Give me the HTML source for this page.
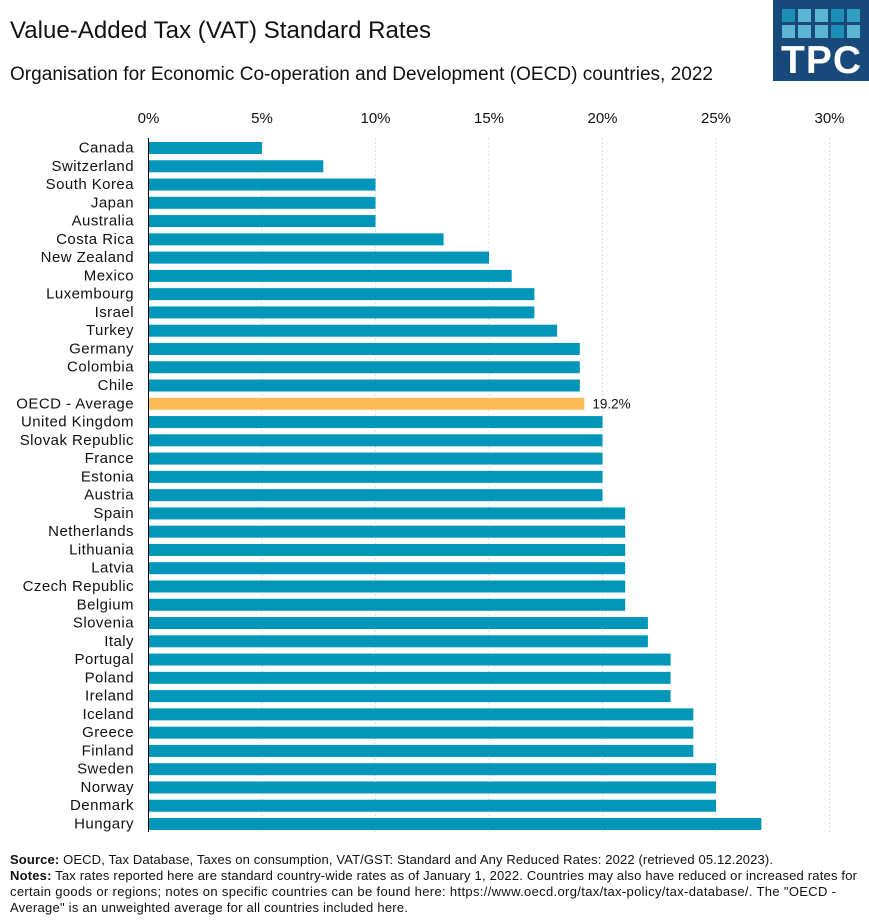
<!DOCTYPE html>
<html lang="en">
<head>
<meta charset="utf-8">
<title>Value-Added Tax (VAT) Standard Rates</title>
<style>
html,body{margin:0;padding:0;background:#fff;width:869px;height:920px;overflow:hidden}
svg{display:block;font-family:"Liberation Sans",sans-serif;fill:#111}
</style>
</head>
<body>
<svg id="chart" width="869" height="920" viewBox="0 0 869 920" xmlns="http://www.w3.org/2000/svg">
  <text x="10" y="38" font-size="24" textLength="421" fill="#111">Value-Added Tax (VAT) Standard Rates</text>
  <text x="10" y="80" font-size="19" textLength="703" fill="#111">Organisation for Economic Co-operation and Development (OECD) countries, 2022</text>
  <g>
    <rect x="773" y="0" width="96" height="81" fill="#17497a"/>
    <rect x="782" y="9" width="13" height="13" fill="#1b8fb8"/>
    <rect x="798" y="9" width="13" height="13" fill="#5ab6d3"/>
    <rect x="815" y="9" width="13" height="13" fill="#5ab6d3"/>
    <rect x="831" y="9" width="13" height="13" fill="#1b8fb8"/>
    <rect x="847" y="9" width="13" height="13" fill="#2f9fc2"/>
    <rect x="782" y="25" width="13" height="13" fill="#5ab6d3"/>
    <rect x="798" y="25" width="13" height="13" fill="#5ab6d3"/>
    <rect x="815" y="25" width="13" height="13" fill="#5ab6d3"/>
    <rect x="831" y="25" width="13" height="13" fill="#1b8fb8"/>
    <rect x="847" y="25" width="13" height="13" fill="#5ab6d3"/>
    <text x="781" y="73" font-size="39" font-weight="700" textLength="80" fill="#fff">TPC</text>
  </g>
  <g id="grid"></g>
  <g id="ticks"></g>
  <g id="bars"></g>
  <g id="labels"></g>
  <line x1="148.5" y1="138" x2="148.5" y2="832" stroke="#000" stroke-width="1"/>
  <g font-size="13" fill="#111">
    <text x="10" y="864" textLength="763"><tspan font-weight="700">Source:</tspan> OECD, Tax Database, Taxes on consumption, VAT/GST: Standard and Any Reduced Rates: 2022 (retrieved 05.12.2023).</text>
    <text x="10" y="880" textLength="847"><tspan font-weight="700">Notes:</tspan> Tax rates reported here are standard country-wide rates as of January 1, 2022. Countries may also have reduced or increased rates for</text>
    <text x="10" y="896" textLength="826">certain goods or regions; notes on specific countries can be found here: https://www.oecd.org/tax/tax-policy/tax-database/. The "OECD -</text>
    <text x="10" y="912" textLength="398">Average" is an unweighted average for all countries included here.</text>
  </g>
</svg>
<script>
const categories = ["Canada","Switzerland","South Korea","Japan","Australia","Costa Rica","New Zealand","Mexico","Luxembourg","Israel","Turkey","Germany","Colombia","Chile","OECD - Average","United Kingdom","Slovak Republic","France","Estonia","Austria","Spain","Netherlands","Lithuania","Latvia","Czech Republic","Belgium","Slovenia","Italy","Portugal","Poland","Ireland","Iceland","Greece","Finland","Sweden","Norway","Denmark","Hungary"];
const rates = [5,7.7,10,10,10,13,15,16,17,17,18,19,19,19,19.2,20,20,20,20,20,21,21,21,21,21,21,22,22,23,23,23,24,24,24,25,25,25,27];
const tickValues = [0,5,10,15,20,25,30];
const highlightCategory = "OECD - Average";

const NS = "http://www.w3.org/2000/svg";
function xScale(v){ return 148.5 + v * (829.5 - 148.5) / 30; }
function yScale(i){ return 142 + i * (818 - 142) / 37; }
const barHeight = 12;

function make(tag, attrs, parent, text){
  const el = document.createElementNS(NS, tag);
  for (const k in attrs) el.setAttribute(k, attrs[k]);
  if (text !== undefined) el.textContent = text;
  parent.appendChild(el);
  return el;
}

const gridGroup = document.getElementById("grid");
const tickGroup = document.getElementById("ticks");
const barGroup = document.getElementById("bars");
const labelGroup = document.getElementById("labels");

tickValues.forEach(function(t){
  if (t > 0) {
    const g = make("line", {x1:xScale(t), x2:xScale(t), y1:138, y2:832, stroke:"#dedede", "stroke-width":1, "stroke-dasharray":"2 2"}, gridGroup);
    
    
  }
  const lab = make("text", {x:xScale(t), y:123, "text-anchor":"middle", "font-size":15, fill:"#111"}, tickGroup, t + "%");
  
  
});

categories.forEach(function(name, i){
  const isAvg = name === highlightCategory;
  const bar = make("rect", {x:xScale(0), y:yScale(i), width:xScale(rates[i]) - xScale(0), height:barHeight, fill:isAvg ? "#fdbb58" : "#0096b9"}, barGroup);
  
  
  const lab = make("text", {x:134, y:yScale(i) + 10.5, "text-anchor":"end", "font-size":15, "letter-spacing":"0.45", fill:"#111"}, labelGroup, name);
  
  
  if (isAvg) {
    const val = make("text", {x:xScale(rates[i]) + 8, y:yScale(i) + 10.5, "font-size":13.5, fill:"#111"}, labelGroup, rates[i].toFixed(1) + "%");
    
    
  }
});
</script>
</body>
</html>
